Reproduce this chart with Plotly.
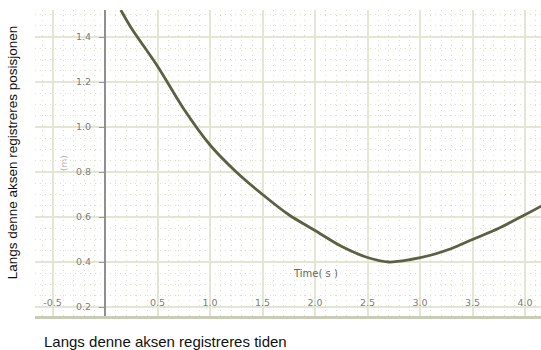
import plotly.graph_objects as go

# Data
time_s = [0.15, 0.25, 0.5, 0.75, 1.0, 1.25, 1.5, 1.75, 2.0, 2.25, 2.5, 2.7, 2.9, 3.1, 3.3, 3.5, 3.75, 4.0, 4.2]
position_m = [1.52, 1.44, 1.27, 1.08, 0.92, 0.80, 0.70, 0.61, 0.54, 0.47, 0.42, 0.40, 0.41, 0.43, 0.46, 0.50, 0.55, 0.61, 0.66]

x_tickvals = [-0.5, 0, 0.5, 1.0, 1.5, 2.0, 2.5, 3.0, 3.5, 4.0]
x_ticktext = ["-0.5", "", "0.5", "1.0", "1.5", "2.0", "2.5", "3.0", "3.5", "4.0"]
y_tickvals = [0.2, 0.4, 0.6, 0.8, 1.0, 1.2, 1.4]
y_ticktext = ["0.2", "0.4", "0.6", "0.8", "1.0", "1.2", "1.4"]

x_range = [-0.667, 4.152]
y_range = [0.16, 1.52]
yaxis_pos = (0 - x_range[0]) / (x_range[1] - x_range[0])

major_grid = "#e3e6d3"
minor_grid = "#dcdfca"
tick_color = "#7d7d7d"

fig = go.Figure()
fig.add_trace(go.Scatter(
    x=time_s, y=position_m, mode="lines",
    line=dict(color="#5b6142", width=2.8, shape="spline", smoothing=0.8),
    hoverinfo="skip", showlegend=False,
))
# same series bound to the label axis (invisible) so the tick-label axis is drawn
fig.add_trace(go.Scatter(
    x=time_s, y=position_m, mode="lines", xaxis="x2", yaxis="y",
    line=dict(color="rgba(0,0,0,0)", width=0),
    hoverinfo="skip", showlegend=False,
))

fig.update_layout(
    width=541, height=350,
    margin=dict(l=35, r=0, t=10, b=34, autoexpand=False),
    paper_bgcolor="white", plot_bgcolor="white",
    font=dict(family="DejaVu Sans", size=9, color=tick_color),
    xaxis=dict(
        range=x_range, tickmode="array", tickvals=x_tickvals,
        showticklabels=False, ticks="", automargin=False,
        showgrid=True, gridcolor=major_grid, gridwidth=1.5,
        minor=dict(tickmode="linear", tick0=0, dtick=0.1, showgrid=True,
                   gridcolor=minor_grid, griddash="1px,4px", gridwidth=1),
        showline=True, linecolor="#c9cdb6", linewidth=3,
        zeroline=False,
    ),
    xaxis2=dict(
        range=x_range, tickmode="array", tickvals=x_tickvals, ticktext=x_ticktext,
        overlaying="x", anchor="free", position=0.068, side="bottom",
        ticks="", showgrid=False, showline=False, zeroline=False, automargin=False,
        tickfont=dict(size=9.5, color=tick_color),
    ),
    yaxis=dict(
        range=y_range, tickmode="array", tickvals=y_tickvals, ticktext=y_ticktext,
        anchor="free", position=yaxis_pos, automargin=False,
        ticks="outside", ticklen=5, tickcolor="#999999", ticklabelstandoff=6,
        showgrid=True, gridcolor=major_grid, gridwidth=1.5,
        minor=dict(tickmode="linear", tick0=0, dtick=0.05, showgrid=True,
                   gridcolor=minor_grid, griddash="1px,4px", gridwidth=1),
        showline=True, linecolor="#8f8f8f", linewidth=2,
        zeroline=False, tickfont=dict(size=9.5, color=tick_color),
        title=dict(text="(m)", font=dict(size=9, color="#c0b8b0"), standoff=6),
    ),
    annotations=[
        dict(text="Time( s )", xref="x", yref="paper", x=2.0, y=0.115,
             showarrow=False, font=dict(size=10, color="#666666")),
        dict(text="Langs denne aksen registreres posisjonen", xref="paper", yref="paper",
             x=-23/506, y=0.535, xanchor="center", yanchor="middle", textangle=-90,
             showarrow=False, font=dict(family="Liberation Sans", size=13.5, color="#111111")),
        dict(text="Langs denne aksen registreres tiden", xref="paper", yref="paper",
             x=7/506, y=-0.083, xanchor="left", yanchor="middle",
             showarrow=False, font=dict(family="Liberation Sans", size=15, color="#111111")),
    ],
)

fig.write_html("out.html", config={"displayModeBar": False},
               post_script="document.body.style.margin='0';")
